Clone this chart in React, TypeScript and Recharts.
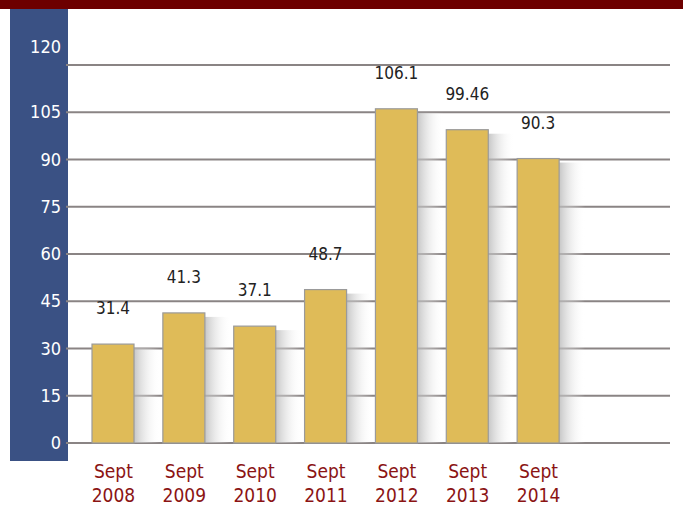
import React from 'react';
import { BarChart, Bar, XAxis, YAxis, CartesianGrid, LabelList } from 'recharts';

const categories = ['Sept 2008', 'Sept 2009', 'Sept 2010', 'Sept 2011', 'Sept 2012', 'Sept 2013', 'Sept 2014'];
const values = [31.4, 41.3, 37.1, 48.7, 106.1, 99.46, 90.3];
const yTicks = [0, 15, 30, 45, 60, 75, 90, 105, 120];

const data = categories.map((c, i) => ({ name: c, value: values[i] }));

const FONT = "'Liberation Sans Narrow', 'DejaVu Sans Condensed', 'Open Sans', sans-serif";

const BarShape = (props: any) => {
  const { x, y, width, height } = props;
  return (
    <g>
      <defs>
        <linearGradient id="barShadow" x1="0" y1="0" x2="1" y2="0">
          <stop offset="0%" stopColor="#b8b8b8" stopOpacity={0.8} />
          <stop offset="100%" stopColor="#ffffff" stopOpacity={0} />
        </linearGradient>
      </defs>
      <rect x={x + width} y={y + 4} width={26} height={height - 4} fill="url(#barShadow)" />
      <rect x={x} y={y} width={width} height={height} fill="#dfbb58" stroke="#9a9a9a" strokeWidth={1.2} />
    </g>
  );
};

const YTick = (props: any) => {
  const { x, y, payload } = props;
  const dy = payload.value === 120 ? -18 : 0;
  return (
    <text x={x} y={y + dy} dy={6} textAnchor="end" fill="#ffffff" fontSize={18} fontFamily={FONT}>
      {payload.value}
    </text>
  );
};

const XTick = (props: any) => {
  const { x, y, payload } = props;
  const parts = String(payload.value).split(' ');
  return (
    <g>
      <text x={x} y={y + 27} textAnchor="middle" fill="#8b1414" fontSize={19} fontFamily={FONT}>
        {parts[0]}
      </text>
      <text x={x} y={y + 51} textAnchor="middle" fill="#8b1414" fontSize={19} fontFamily={FONT}>
        {parts[1]}
      </text>
    </g>
  );
};

export default function App() {
  return (
    <div style={{ position: 'absolute', left: 0, top: 0, width: 683, height: 506, background: '#ffffff', overflow: 'hidden' }}>
      <div style={{ position: 'absolute', left: 0, top: 0, width: 683, height: 9, background: '#6d0000' }} />
      <div style={{ position: 'absolute', left: 10, top: 9, width: 58, height: 452, background: '#3a5184' }} />
      <div style={{ position: 'absolute', left: 0, top: 0 }}>
        <BarChart width={683} height={506} data={data} margin={{ top: 65, right: 13, left: 6, bottom: 0 }}>
          <CartesianGrid horizontal={true} vertical={false} stroke="#8a8484" strokeWidth={2.2} />
          <XAxis
            dataKey="name"
            axisLine={false}
            tickLine={false}
            height={63}
            interval={0}
            padding={{ left: 12, right: 96 }}
            tick={<XTick />}
          />
          <YAxis
            domain={[0, 120]}
            ticks={yTicks}
            axisLine={false}
            tickLine={false}
            tickSize={0}
            tickMargin={5}
            width={60}
            tick={<YTick />}
            interval={0}
          />
          <Bar dataKey="value" barSize={42} isAnimationActive={false} shape={<BarShape />}>
            <LabelList dataKey="value" position="top" offset={30} fill="#222222" fontSize={17} fontFamily={FONT} />
          </Bar>
        </BarChart>
      </div>
    </div>
  );
}
